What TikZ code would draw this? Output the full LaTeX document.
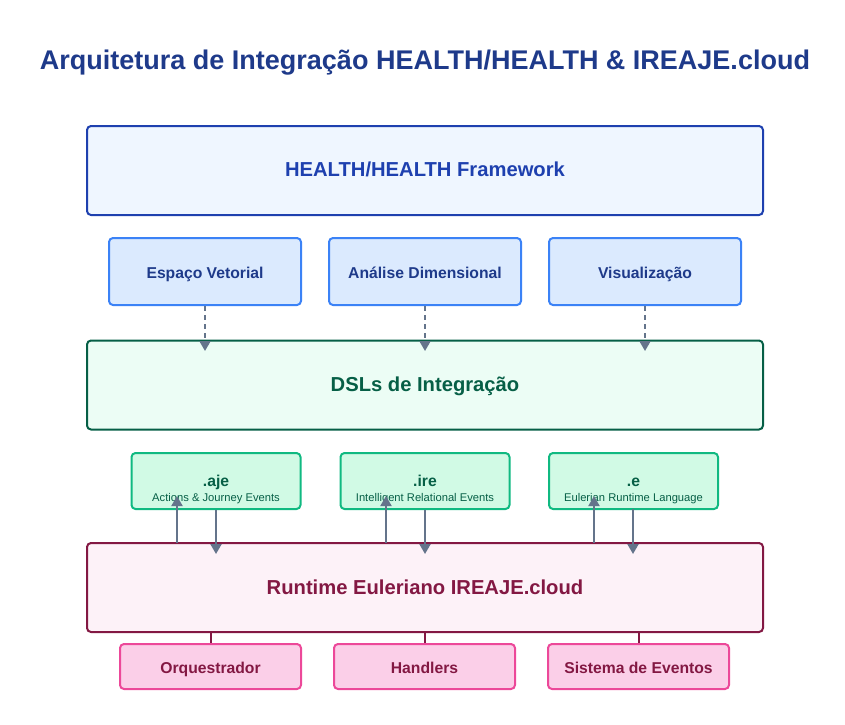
\documentclass[tikz,border=0pt]{standalone}
\usepackage{fontspec}
\setmainfont{Liberation Sans}
\usetikzlibrary{arrows.meta}
\definecolor{titleblue}{HTML}{1E3A8A}
\definecolor{fwborder}{HTML}{1E40AF}
\definecolor{fwfill}{HTML}{EFF6FF}
\definecolor{bborder}{HTML}{3B82F6}
\definecolor{bfill}{HTML}{DBEAFE}
\definecolor{dslborder}{HTML}{065F46}
\definecolor{dslfill}{HTML}{ECFDF5}
\definecolor{gborder}{HTML}{10B981}
\definecolor{gfill}{HTML}{D1FAE5}
\definecolor{rtborder}{HTML}{831843}
\definecolor{rtfill}{HTML}{FDF2F8}
\definecolor{pborder}{HTML}{EC4899}
\definecolor{pfill}{HTML}{FBCFE8}
\definecolor{arrowgray}{HTML}{64748B}
\tikzset{
  boxbase/.style={line width=2pt, rounded corners=4pt, inner sep=0pt},
  bigbox/.style={boxbase, draw, minimum width=676pt, minimum height=89pt},
  fwbox/.style={bigbox, draw=fwborder, fill=fwfill},
  dslbox/.style={bigbox, draw=dslborder, fill=dslfill},
  rtbox/.style={bigbox, draw=rtborder, fill=rtfill},
  bluebox/.style={boxbase, draw=bborder, fill=bfill, minimum width=192pt, minimum height=67pt},
  greenbox/.style={boxbase, draw=gborder, fill=gfill, minimum width=169pt, minimum height=56pt},
  pinkbox/.style={boxbase, draw=pborder, fill=pfill, minimum width=181pt, minimum height=45pt},
  txt/.style={anchor=base, inner sep=0pt},
  bigtxt/.style={txt, font=\fontsize{20.2}{24}\selectfont\bfseries},
  midtxt/.style={txt, font=\fontsize{15.7}{18}\selectfont\bfseries},
  subtxt/.style={txt, font=\fontsize{11.2}{13}\selectfont},
  dasharrow/.style={draw=arrowgray, line width=2pt, dash pattern=on 5pt off 4pt, -{Triangle[width=11pt,length=10pt]}},
  solidarrow/.style={draw=arrowgray, line width=2pt, -{Triangle[width=11pt,length=10pt]}},
  link/.style={draw=rtborder, line width=2pt},
}
\begin{document}
\begin{tikzpicture}[x=1pt,y=-1pt]
\useasboundingbox (0,0) rectangle (845,724);
\node[txt, text=titleblue, font=\fontsize{27}{32}\selectfont\bfseries] (title) at (425,69.5) {Arquitetura de Integração HEALTH/HEALTH \& IREAJE.cloud};

\node[fwbox] (fw) at (425,170.5) {};
\node[bigtxt, text=fwborder] (fwt) at (425,176) {HEALTH/HEALTH Framework};

\node[bluebox] (ev) at (205,271.5) {};
\node[bluebox] (ad) at (425,271.5) {};
\node[bluebox] (vi) at (645,271.5) {};
\node[midtxt, text=titleblue] (evt) at (205,278) {Espaço Vetorial};
\node[midtxt, text=titleblue] (adt) at (425,278) {Análise Dimensional};
\node[midtxt, text=titleblue] (vit) at (645,278) {Visualização};

\node[dslbox] (dsl) at (425,385) {};
\node[bigtxt, text=dslborder] (dslt) at (425,391) {DSLs de Integração};

\coordinate (evend) at (205,351);
\coordinate (adend) at (425,351);
\coordinate (viend) at (645,351);
\draw[dasharrow] (ev.south) -- (evend);
\draw[dasharrow] (ad.south) -- (adend);
\draw[dasharrow] (vi.south) -- (viend);

\node[greenbox] (aje) at (216,481) {};
\node[greenbox] (ire) at (425,481) {};
\node[greenbox] (e) at (633.5,481) {};
\node[midtxt, text=dslborder] (ajet) at (216,486.5) {.aje};
\node[midtxt, text=dslborder] (iret) at (425,486.5) {.ire};
\node[midtxt, text=dslborder] (et) at (633.5,486.5) {.e};
\node[subtxt, text=dslborder] (ajes) at (216,501.7) {Actions \& Journey Events};
\node[subtxt, text=dslborder] (ires) at (425,501.7) {Intelligent Relational Events};
\node[subtxt, text=dslborder] (es) at (633.5,501.7) {Eulerian Runtime Language};

\node[rtbox] (rt) at (425,587.5) {};
\node[bigtxt, text=rtborder] (rtt) at (425,594) {Runtime Euleriano IREAJE.cloud};

\coordinate (ajeup) at (177,496);
\coordinate (ireup) at (386,496);
\coordinate (eup) at (594,496);
\coordinate (rtajeA) at (177,543);
\coordinate (rtireA) at (386,543);
\coordinate (rteA) at (594,543);
\draw[solidarrow] (rtajeA) -- (ajeup);
\draw[solidarrow] (rtireA) -- (ireup);
\draw[solidarrow] (rteA) -- (eup);

\coordinate (ajed) at (216,554);
\coordinate (ired) at (425,554);
\coordinate (ed) at (633,554);
\coordinate (eb) at (633,509);
\draw[solidarrow] (aje.south) -- (ajed);
\draw[solidarrow] (ire.south) -- (ired);
\draw[solidarrow] (eb) -- (ed);

\node[pinkbox] (orq) at (210.5,666.5) {};
\node[pinkbox] (han) at (424.5,666.5) {};
\node[pinkbox] (sis) at (638.5,666.5) {};
\node[midtxt, text=rtborder] (orqt) at (210.5,673) {Orquestrador};
\node[midtxt, text=rtborder] (hant) at (424.5,673) {Handlers};
\node[midtxt, text=rtborder] (sist) at (638.5,673) {Sistema de Eventos};

\draw[link] (rt.south -| orq.north) -- (orq.north);
\draw[link] (rt.south -| han.north) -- (han.north);
\draw[link] (rt.south -| sis.north) -- (sis.north);
\end{tikzpicture}
\end{document}
